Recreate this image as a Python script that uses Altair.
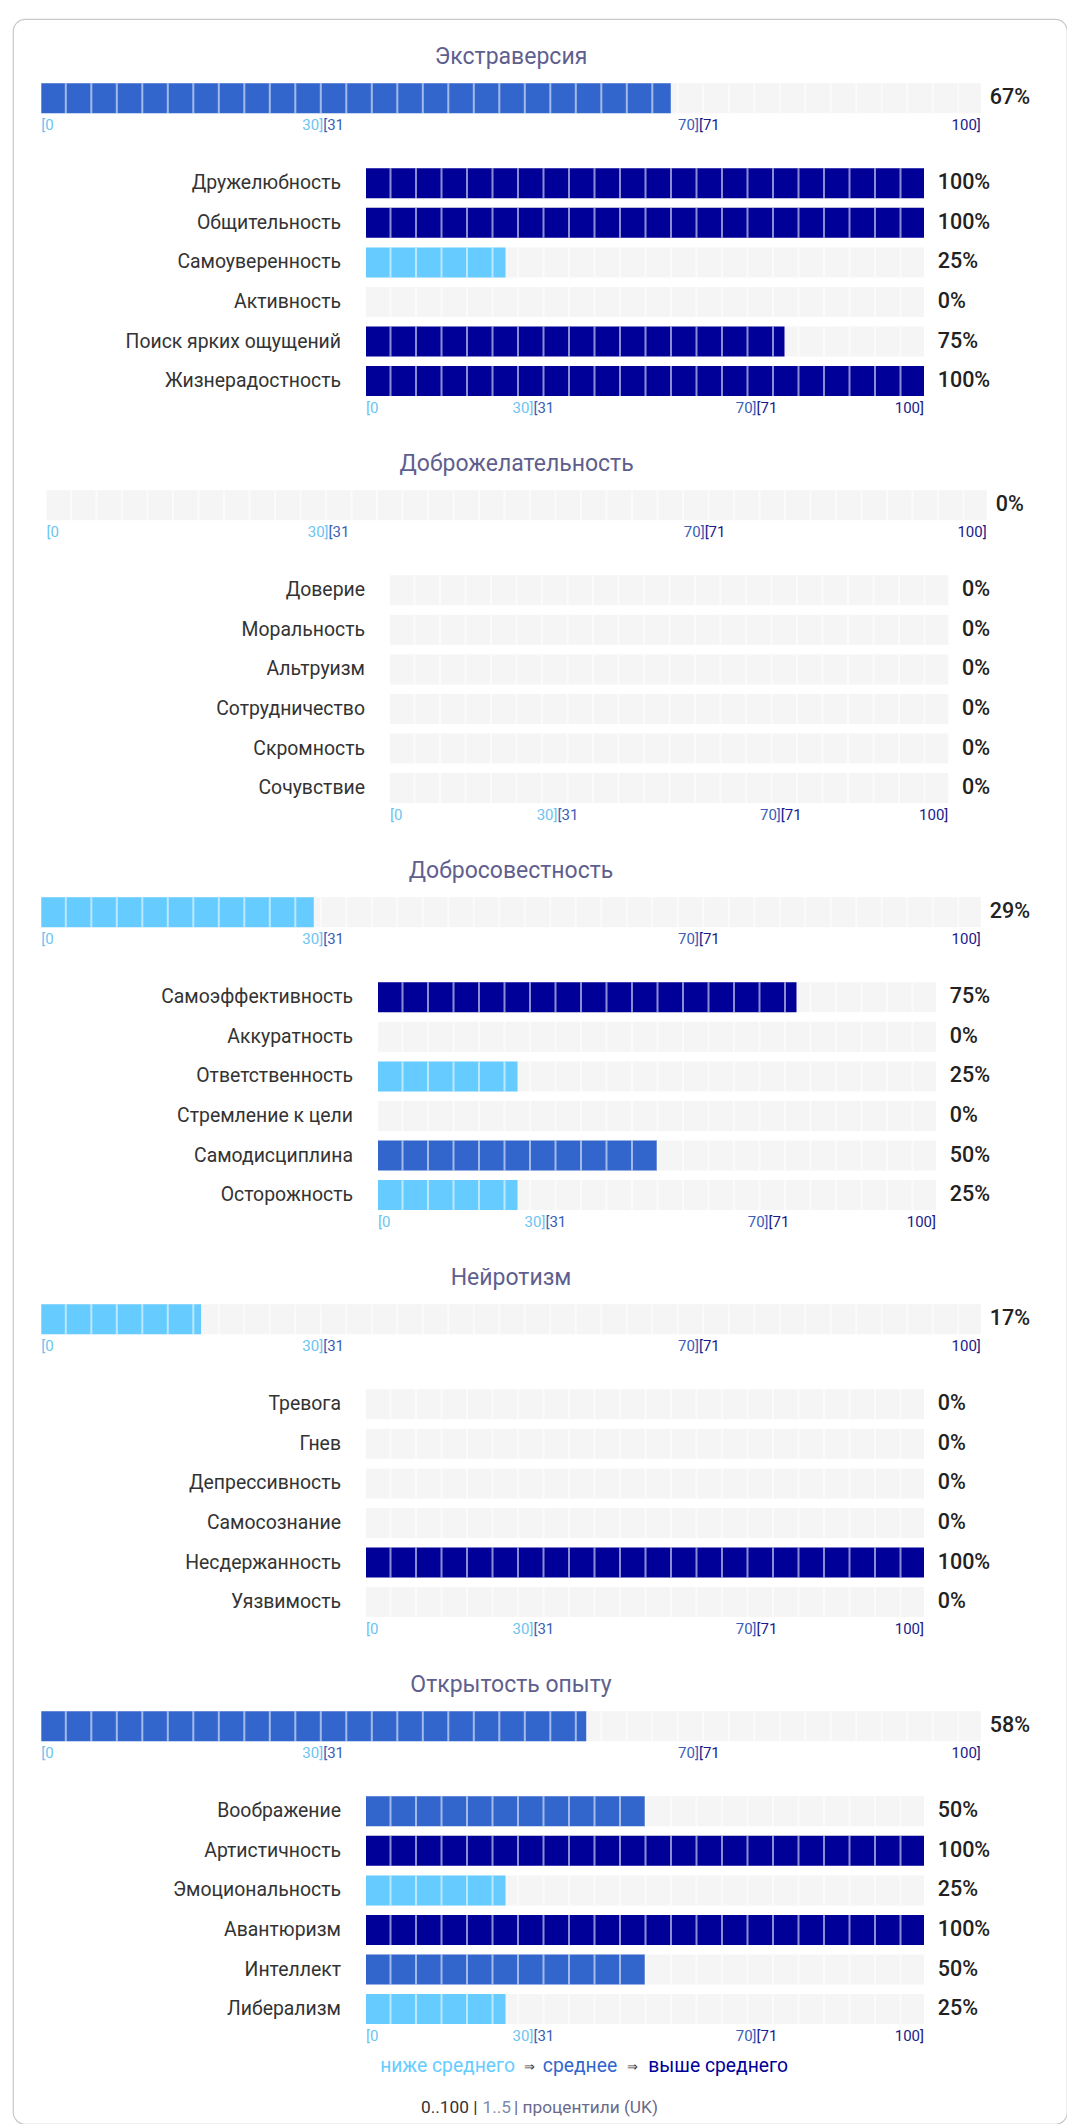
import altair as alt
import pandas as pd

# ---------------- data ----------------
traits = ["Экстраверсия", "Доброжелательность", "Добросовестность", "Нейротизм", "Открытость опыту"]
trait_scores = [67, 0, 29, 17, 58]

extraversion_facets = ["Дружелюбность", "Общительность", "Самоуверенность", "Активность",
                       "Поиск ярких ощущений", "Жизнерадостность"]
extraversion_scores = [100, 100, 25, 0, 75, 100]
agreeableness_facets = ["Доверие", "Моральность", "Альтруизм", "Сотрудничество", "Скромность", "Сочувствие"]
agreeableness_scores = [0, 0, 0, 0, 0, 0]
conscientiousness_facets = ["Самоэффективность", "Аккуратность", "Ответственность", "Стремление к цели",
                            "Самодисциплина", "Осторожность"]
conscientiousness_scores = [75, 0, 25, 0, 50, 25]
neuroticism_facets = ["Тревога", "Гнев", "Депрессивность", "Самосознание", "Несдержанность", "Уязвимость"]
neuroticism_scores = [0, 0, 0, 0, 100, 0]
openness_facets = ["Воображение", "Артистичность", "Эмоциональность", "Авантюризм", "Интеллект", "Либерализм"]
openness_scores = [50, 100, 25, 100, 50, 25]

facet_names = [extraversion_facets, agreeableness_facets, conscientiousness_facets,
               neuroticism_facets, openness_facets]
facet_scores = [extraversion_scores, agreeableness_scores, conscientiousness_scores,
                neuroticism_scores, openness_scores]

zone_bounds = [31, 71]
zone_names = ["ниже среднего", "среднее", "выше среднего"]
tick_texts = ["[0", "30]", "[31", "70]", "[71", "100]"]
tick_values = [0, 30, 30, 70, 70, 100]
tick_zones = [0, 0, 1, 1, 2, 2]
footer_parts = ["0..100 |", "1..5", "| процентили (UK)"]

# ---------------- style / layout ----------------
FONT = "Roboto"
BAR_COLORS = ["#66ccff", "#3366cc", "#000099"]
TICK_COLORS = ["#6cc4f0", "#3a5db8", "#1a1a8c"]
GRAY = "#f5f5f5"
TITLE_COLOR = "#5f5f8f"
TEXT_COLOR = "#333333"

OX, OY = 13, 19            # page position of the card / view origin
W, H = 1054, 2105

main_x = [(41.3, 980.8), (46.5, 986.7), (41.3, 980.8), (41.3, 980.8), (41.3, 980.8)]
sub_x = [(366, 924), (390, 948.3), (378, 936), (366, 924), (366, 924)]
MAIN_TOP0 = 83.3
SECTION_STEP = 407
SUB_OFFSET = 85
PITCH = 39.55
BAR_H = 30

color_scale = alt.Scale(type="threshold", domain=zone_bounds, range=BAR_COLORS)


def bar_group(names, scores, xr, top, main):
    n = len(names)
    df = pd.DataFrame({"name": names, "score": scores,
                       "label": [f"{s}%" for s in scores]})
    xs = alt.Scale(domain=[0, 100], range=[xr[0] - OX, xr[1] - OX], nice=False, zero=False)
    span = (n - 1) * PITCH + BAR_H
    ys = alt.Scale(type="band", domain=names, range=[top - OY, top - OY + span],
                   paddingInner=(1 - BAR_H / PITCH) if n > 1 else 0, paddingOuter=0)
    Y = alt.Y("name:N", scale=ys, axis=None, sort=None)
    base = alt.Chart(df).encode(y=Y)

    bg = base.mark_bar(color=GRAY).encode(
        x=alt.X(datum=0, scale=xs, axis=None), x2=alt.datum(100))
    fill = base.mark_bar().encode(
        x=alt.X("score:Q", scale=xs, axis=None), x2=alt.datum(0),
        color=alt.Color("score:Q", scale=color_scale, legend=None))
    sep = base.mark_rule(color="white", strokeWidth=BAR_H, strokeDash=[2, 23.5],
                         strokeDashOffset=2, opacity=0.55).encode(
        x=alt.X(datum=0, scale=xs, axis=None), x2=alt.datum(100))
    pct = base.mark_text(align="left", baseline="middle", dx=9 if main else 13.7,
                         fontSize=21.5, fontWeight=500, color="#222222", font=FONT).encode(
        x=alt.X(datum=100, scale=xs, axis=None), text="label:N")
    layers = [bg, fill, sep, pct]

    tdf = pd.DataFrame({"text": tick_texts, "value": tick_values,
                        "tcolor": [TICK_COLORS[z] for z in tick_zones]})
    tdf["side"] = ["left" if t.startswith("[") else "right" for t in tick_texts]
    tdf["row"] = names[-1]
    for side in ["left", "right"]:
        layers.append(
            alt.Chart(tdf[tdf["side"] == side]).mark_text(
                align=side, baseline="middle", dy=BAR_H / 2 + 11.5, fontSize=15, font=FONT
            ).encode(
                x=alt.X("value:Q", scale=xs, axis=None),
                y=alt.Y("row:N", scale=ys, axis=None, sort=None),
                text="text:N",
                color=alt.Color("tcolor:N", scale=None, legend=None),
            )
        )
    if main:
        layers.append(base.mark_text(align="center", baseline="middle", dy=-(BAR_H / 2 + 26.5),
                                     fontSize=23, color=TITLE_COLOR, font=FONT).encode(
            x=alt.X(datum=50, scale=xs, axis=None), text="name:N"))
    else:
        layers.append(base.mark_text(align="right", baseline="middle", dx=-25,
                                     fontSize=19.4, color=TEXT_COLOR, font=FONT).encode(
            x=alt.X(datum=0, scale=xs, axis=None), text="name:N"))
    return alt.layer(*layers)


groups = []
for k, trait in enumerate(traits):
    top = MAIN_TOP0 + SECTION_STEP * k
    groups.append(bar_group([trait], [trait_scores[k]], main_x[k], top, True))
    groups.append(bar_group(facet_names[k], facet_scores[k], sub_x[k], top + SUB_OFFSET, False))


def text_at(txt, x, y, align, color, size, weight=400):
    return alt.Chart(pd.DataFrame({"t": [txt]})).mark_text(
        align=align, baseline="middle", fontSize=size, color=color, font=FONT, fontWeight=weight
    ).encode(x=alt.value(x - OX), y=alt.value(y - OY), text="t:N")


LEG_Y = 2066
legend = [
    text_at(zone_names[0], 515, LEG_Y, "right", BAR_COLORS[0], 19.3),
    text_at("⇒", 529, LEG_Y + 1, "center", "#444444", 13),
    text_at(zone_names[1], 580, LEG_Y, "center", BAR_COLORS[1], 19.3),
    text_at("⇒", 632, LEG_Y + 1, "center", "#444444", 13),
    text_at(zone_names[2], 648.3, LEG_Y, "left", BAR_COLORS[2], 19.3),
]
FOOT_Y = 2108
footer = [
    text_at(footer_parts[0], 421, FOOT_Y, "left", "#333333", 17.3),
    text_at(footer_parts[1], 482.5, FOOT_Y, "left", "#7a8ab0", 17.3),
    text_at(footer_parts[2], 514, FOOT_Y, "left", "#6a6a8c", 17.3),
]

chart = alt.layer(*groups, *legend, *footer).resolve_scale(
    x="independent", y="independent", color="independent"
).properties(
    width=W, height=H,
    padding={"left": OX - 8, "top": OY - 8, "right": 0, "bottom": 0},
    autosize=alt.AutoSizeParams(type="none"),
).configure(font=FONT).configure_view(
    stroke="#c8c8c8", strokeWidth=1.2, cornerRadius=12
)

chart.save("out.html", embed_options={"renderer": "svg", "actions": False})
